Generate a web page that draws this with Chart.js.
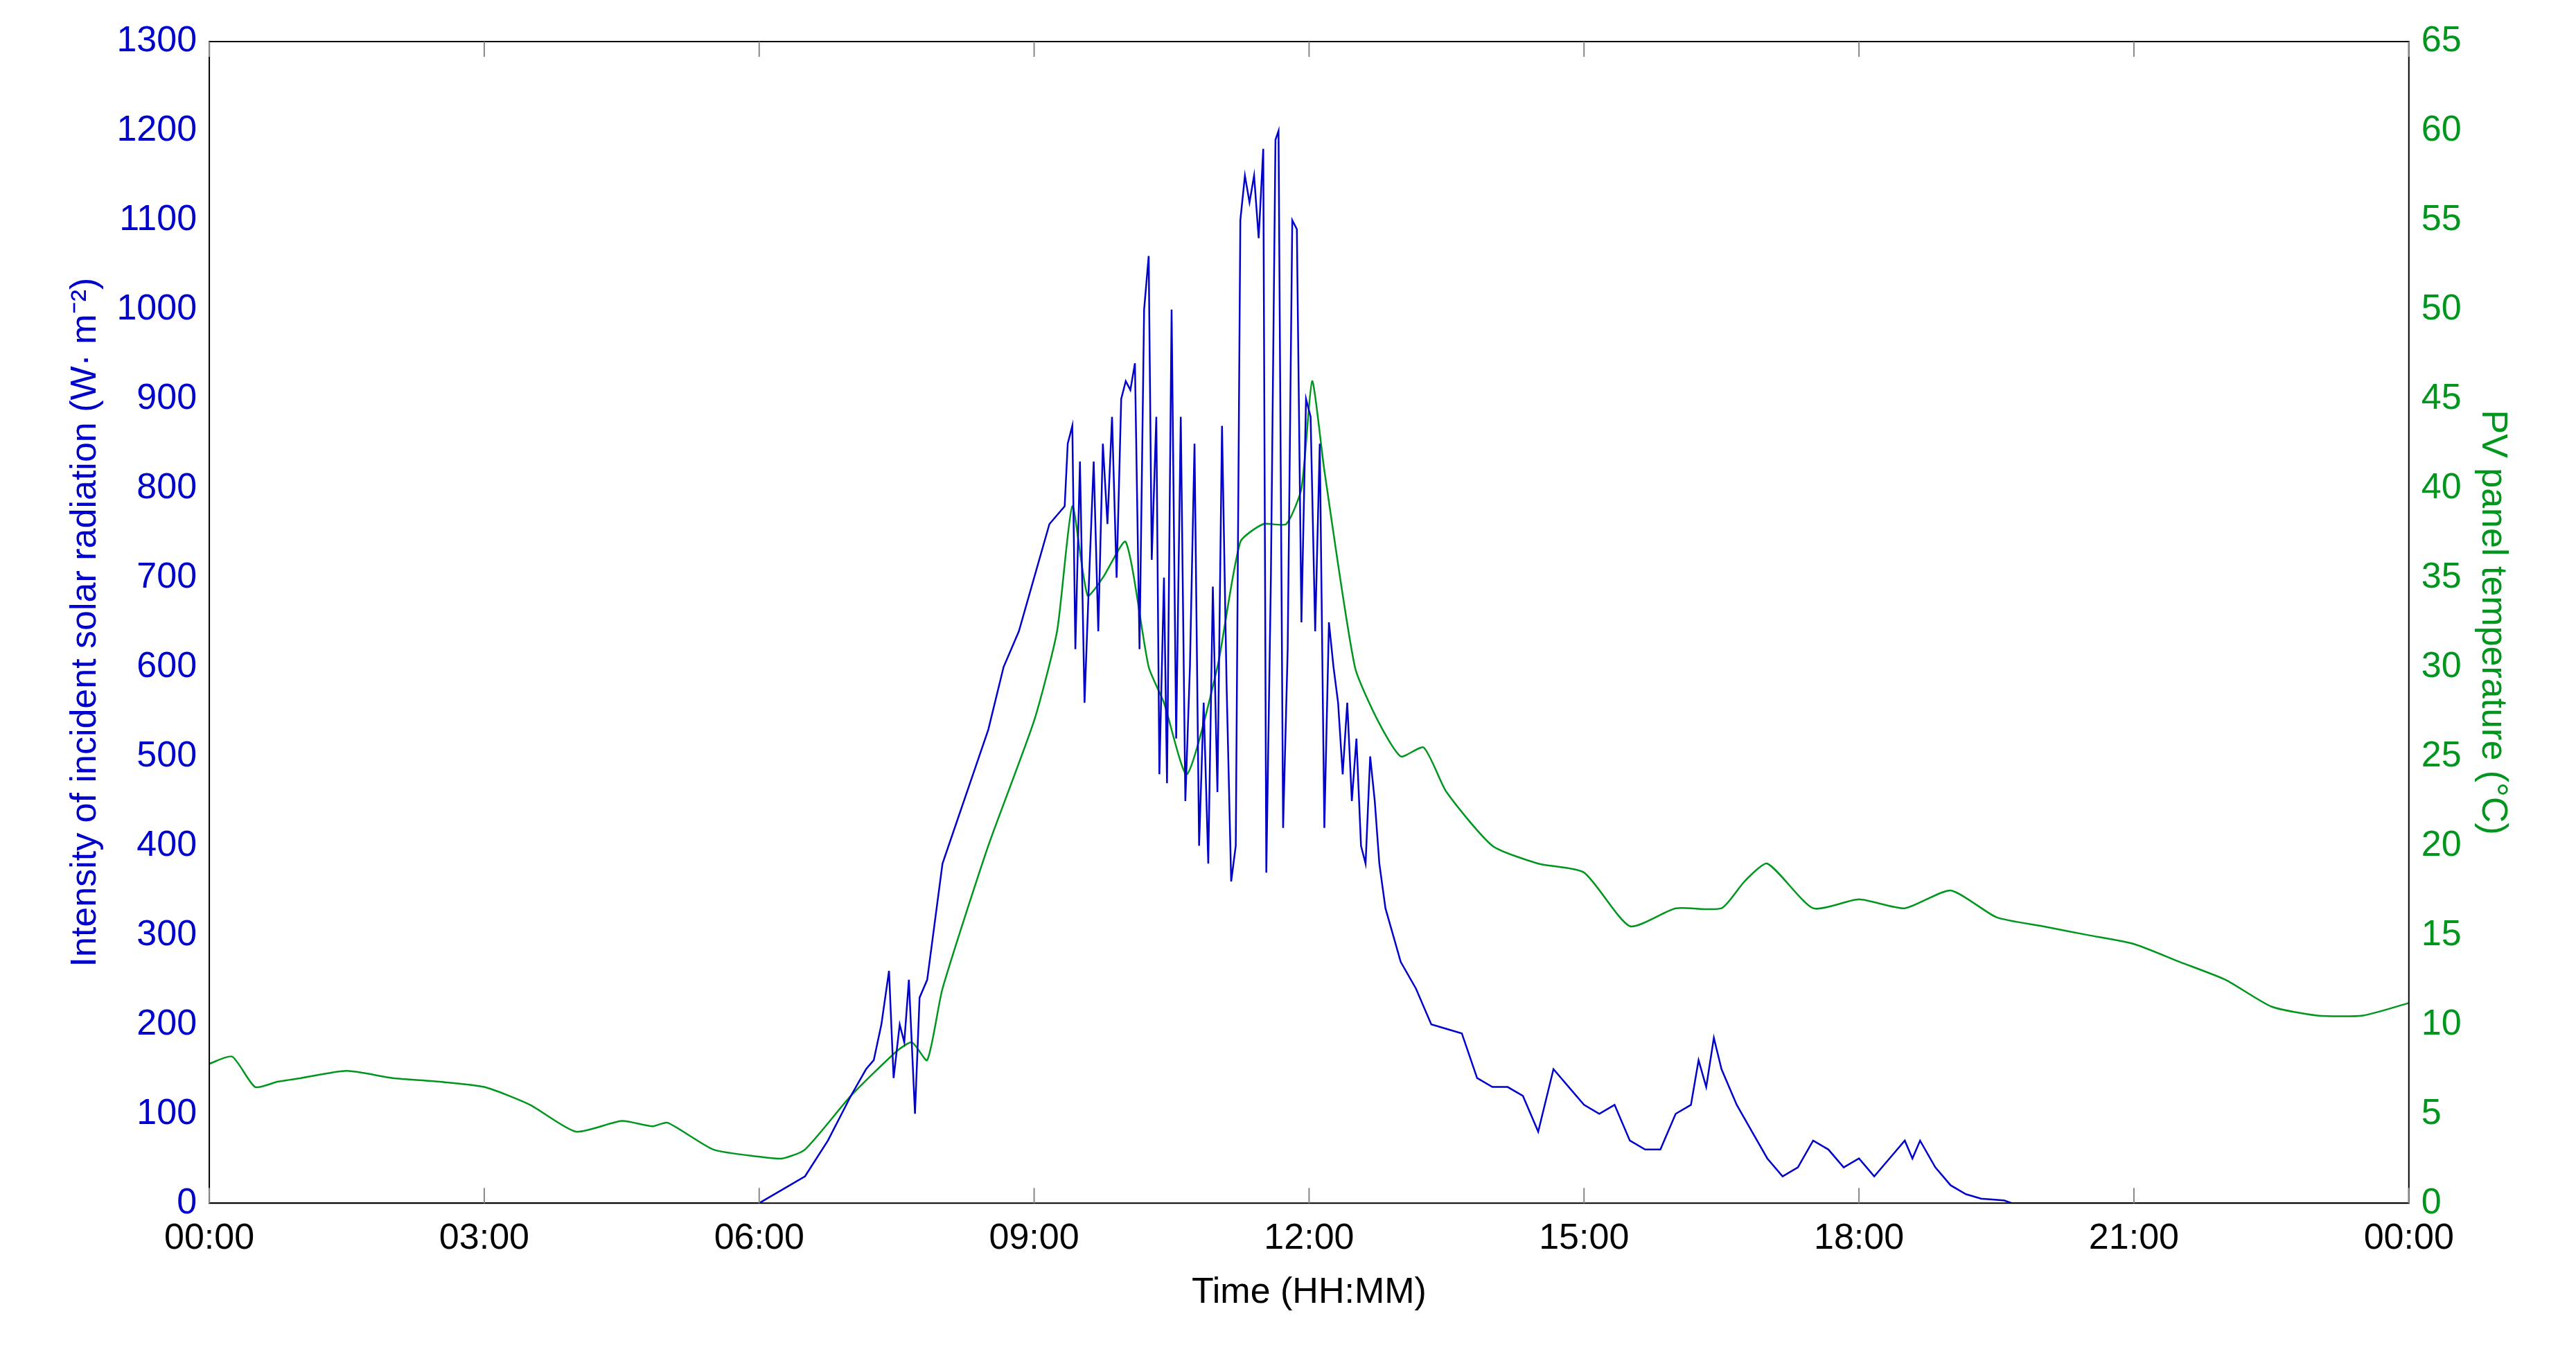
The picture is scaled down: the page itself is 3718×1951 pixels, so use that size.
<!DOCTYPE html>
<html><head><meta charset="utf-8">
<script src="https://cdn.jsdelivr.net/npm/chart.js@4.4.0/dist/chart.umd.min.js"></script>
<style>html,body{margin:0;background:#fff}#w{width:3718px;height:1951px}</style>
</head><body><div id="w"><canvas id="c"></canvas></div>
<script>
const radTimes=[0,360,375,390,405,420,430,435,440,445,448,452,455,458,462,465,470,480,490,500,510,520,530,540,550,560,
562,565,567,570,573,576,579,582,585,588,591,594,597,600,603,606,609,612,615,617,620,622,625,627,630,633,636,639,642,645,648,651,654,657,660,663,666,669,672,675,678,681,684,687,690,692,695,698,700,703,706,709,712,715,718,721,724,727,730,733,736,739,742,745,748,751,754,757,760,763,766,770,
780,790,800,810,820,830,840,850,860,870,
880,890,900,910,920,930,940,950,960,970,
975,980,985,990,1000,1010,1020,1030,1040,1050,
1060,1070,1080,1090,1100,1110,1115,1120,1130,1140,
1150,1160,1175,1180,1440];
const radValues=[0,0,15,30,70,120,150,160,200,260,140,200,180,250,100,230,250,380,430,480,530,600,640,700,760,780,
850,870,620,830,560,700,830,640,850,760,880,700,900,920,910,940,620,1000,1060,720,880,480,700,470,1000,520,880,450,600,850,400,560,380,690,460,870,580,360,400,1100,1150,1120,1150,1080,1180,370,700,1190,1200,420,620,1100,1090,650,900,880,640,850,420,650,600,560,480,560,450,520,400,380,500,450,380,330,
270,240,200,195,190,140,130,130,120,80,
150,130,110,100,110,70,60,60,100,110,
160,130,185,150,110,80,50,30,40,70,
60,40,50,30,50,70,50,70,40,20,
10,5,3,0,0];
const tempTimes=[0,15,30,45,60,90,120,150,180,210,240,270,290,300,330,360,375,390,420,450,460,470,480,510,540,555,565,575,585,600,615,625,640,660,675,690,705,715,722,730,750,765,780,795,810,840,870,900,930,960,990,1005,1020,1050,1080,1110,1140,1170,1200,1230,1260,1290,1320,1350,1380,1410,1440];
const tempValues=[7.8,8.2,6.5,6.8,7,7.4,7,6.8,6.5,5.5,4,4.6,4.3,4.5,3,2.6,2.5,3,6,8.5,9,8,12,20,27,32,39,34,35,37,30,28,24,30,37,38,38,40,46,41,30,27,25,25.5,23,20,19,18.5,15.5,16.5,16.5,18,19,16.5,17,16.5,17.5,16,15.5,15,14.5,13.5,12.5,11,10.5,10.5,11.2,10.8];
const xTicks=[0,180,360,540,720,900,1080,1260,1440];
const xTickLabels=['00:00','03:00','06:00','09:00','12:00','15:00','18:00','21:00','00:00'];
const toPts=(t,v)=>t.map((x,i)=>({x,y:v[i]}));
const F='"Liberation Sans", Arial, sans-serif';
const box={id:'box',afterDraw(c){const a=c.chartArea,g=c.ctx;g.save();g.strokeStyle='#000';g.lineWidth=2;g.strokeRect(a.left,a.top,a.right-a.left,a.bottom-a.top);
g.strokeStyle='#888';g.lineWidth=2;const xs=c.scales.x;xTicks.forEach(t=>{const p=xs.getPixelForValue(t);g.beginPath();g.moveTo(p,a.bottom);g.lineTo(p,a.bottom-22);g.moveTo(p,a.top);g.lineTo(p,a.top+22);g.stroke();});g.restore();}};
new Chart(document.getElementById('c'),{type:'line',
data:{datasets:[
{data:toPts(radTimes,radValues),borderColor:'#0000cc',borderWidth:2.5,pointRadius:0,yAxisID:'y',tension:0},
{data:toPts(tempTimes,tempValues),borderColor:'#00961e',borderWidth:2.5,pointRadius:0,yAxisID:'y1',tension:0.2}]},
options:{responsive:true,maintainAspectRatio:false,animation:false,
layout:{padding:{top:60,left:88,right:85,bottom:50}},
plugins:{legend:{display:false},tooltip:{enabled:false}},
scales:{
x:{type:'linear',min:0,max:1440,afterBuildTicks:s=>{s.ticks=xTicks.map(v=>({value:v}))},
 ticks:{callback:(v)=>xTickLabels[xTicks.indexOf(v)],color:'#000',font:{family:F,size:52},maxRotation:0,padding:12},
 grid:{display:false},border:{display:false},
 title:{display:true,text:'Time (HH:MM)',color:'#000',font:{family:F,size:52},padding:{top:4}}},
y:{position:'left',min:0,max:1300,ticks:{stepSize:100,callback:v=>String(v),color:'#0000cc',font:{family:F,size:52},padding:10},
 grid:{display:false},border:{display:false},
 title:{display:true,text:'Intensity of incident solar radiation (W· m⁻²)',color:'#0000cc',font:{family:F,size:52}}},
y1:{position:'right',min:0,max:65,ticks:{stepSize:5,callback:v=>String(v),color:'#00961e',font:{family:F,size:52},padding:10},
 grid:{display:false},border:{display:false},
 title:{display:true,text:'PV panel temperature (°C)',color:'#00961e',font:{family:F,size:52}}}
}},plugins:[box]});
</script></body></html>
